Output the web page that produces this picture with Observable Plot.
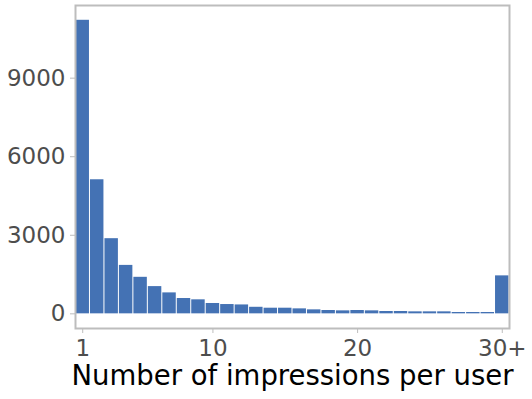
<!DOCTYPE html>
<html><head><meta charset="utf-8">
<script src="https://cdn.jsdelivr.net/npm/d3@7"></script>
<script src="https://cdn.jsdelivr.net/npm/@observablehq/plot@0.6"></script>
<style>body{margin:0;background:#fff;} svg{font-family:"DejaVu Sans";}</style>
</head><body><div id="chart"></div>
<script>
const impressions = [1,2,3,4,5,6,7,8,9,10,11,12,13,14,15,16,17,18,19,20,21,22,23,24,25,26,27,28,29,30];
const users = [11210,5120,2870,1850,1395,1040,800,585,535,395,355,340,250,215,215,190,152,127,114,127,114,89,89,76,76,76,51,51,51,1450];
const xTicks = [1,10,20,30];
const xTickLabels = ["1","10","20","30+"];
const yTicks = [0,3000,6000,9000];
const xLabel = "Number of impressions per user";
const data = impressions.map((k,i)=>({k, n: users[i]}));
const chart = Plot.plot({
  width:532, height:399, marginLeft:75, marginRight:23, marginTop:5, marginBottom:71,
  style:{fontFamily:"DejaVu Sans", background:"white"},
  x:{domain:[0.5,30.5]},
  y:{domain:[-560,11775]},
  marks:[
    Plot.rect(data,{x1:d=>d.k-0.5, x2:d=>d.k+0.5, y1:0, y2:"n", fill:"#4472b4", insetLeft:0.5, insetRight:0.5}),
    Plot.frame({stroke:"#bdbdbd", strokeWidth:2}),
    Plot.axisY({ticks:yTicks, tickFormat:d3.format("d"), tickSize:5, tickPadding:5, stroke:"#bdbdbd", fill:"#4d4d4d", label:null, fontSize:23}),
    Plot.axisX({ticks:xTicks, tickFormat:d=>xTickLabels[xTicks.indexOf(d)], tickSize:5, tickPadding:6, stroke:"#bdbdbd", fill:"#4d4d4d", label:null, fontSize:23}),
    Plot.text([xLabel],{text:d=>d, frameAnchor:"bottom", dy:56, fontSize:27.5, fill:"black"})
  ]
});
document.getElementById("chart").appendChild(chart);
</script>
</body></html>
